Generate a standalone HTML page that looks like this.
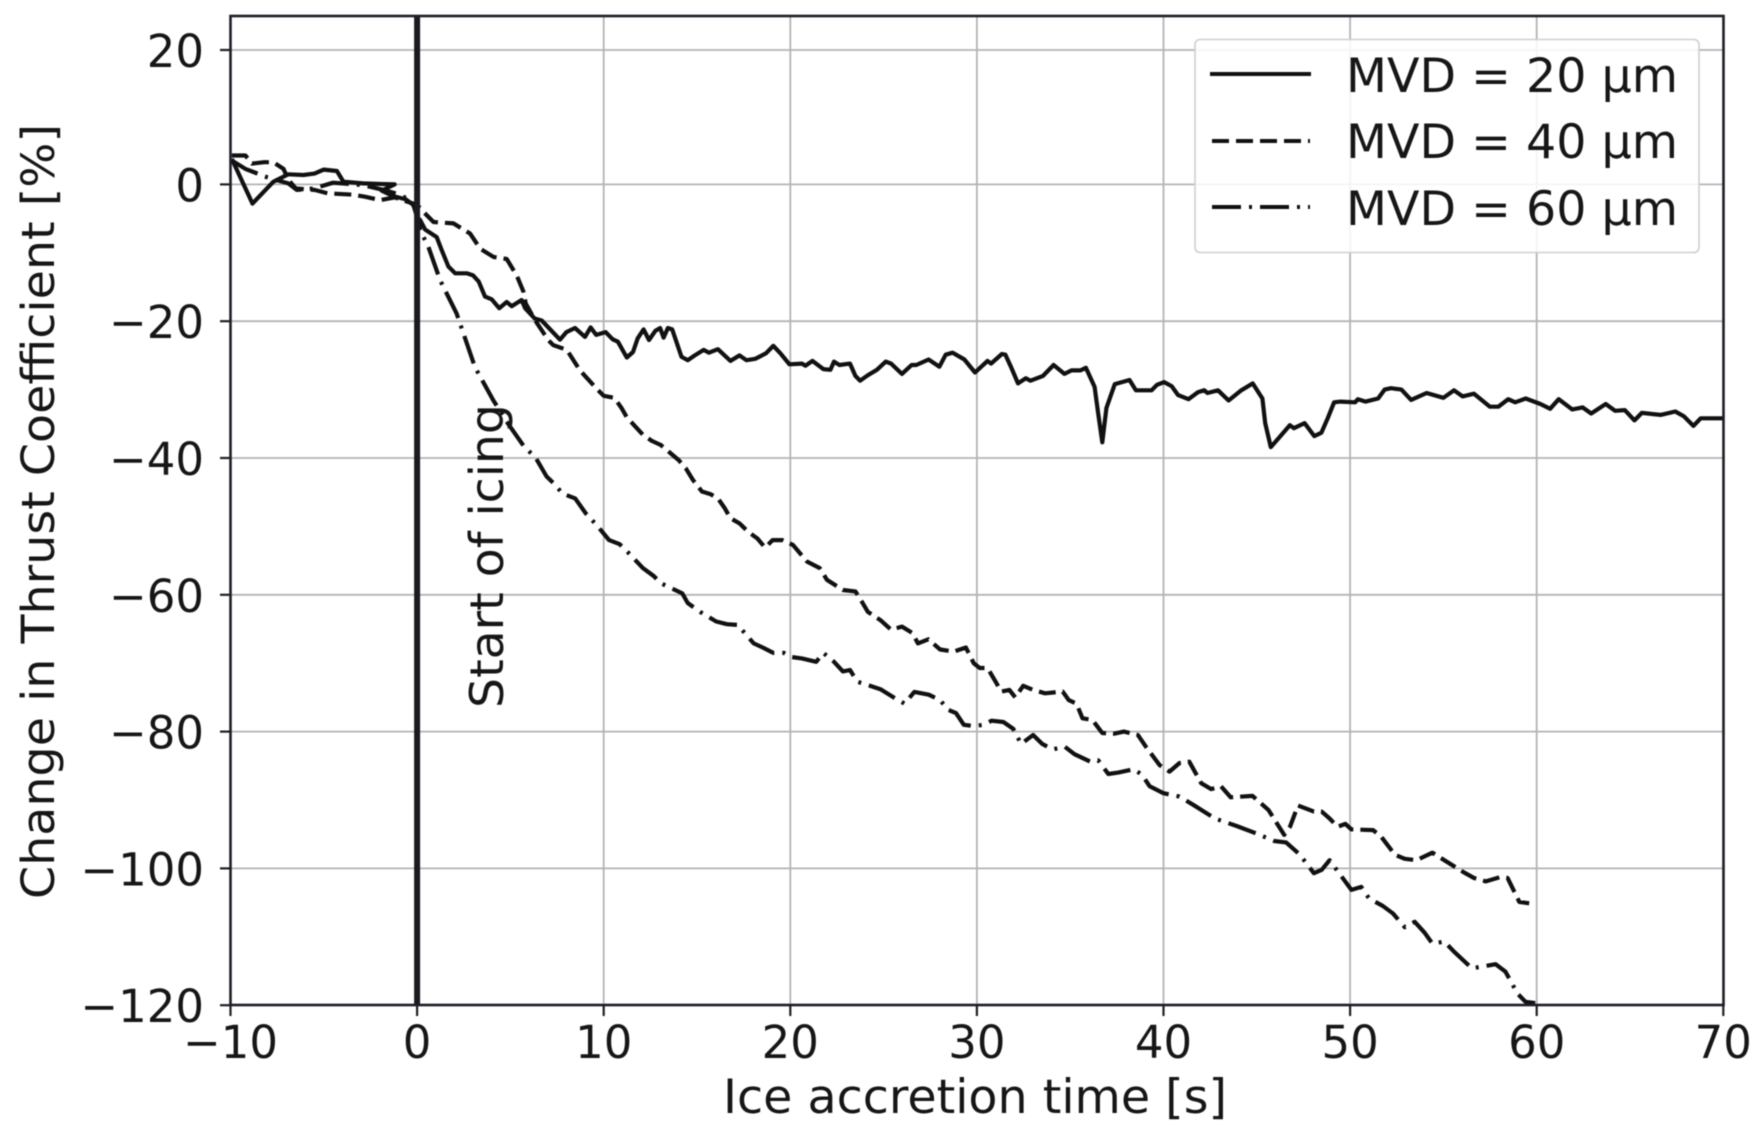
<!DOCTYPE html>
<html lang="en">
<head>
<meta charset="utf-8">
<title>Change in Thrust Coefficient vs Ice accretion time</title>
<style>
html,body{margin:0;padding:0;background:#fff;}
svg{display:block;filter:blur(0.4px);}
text{font-family:"DejaVu Sans","Liberation Sans",sans-serif;fill:#161616;}
</style>
</head>
<body>
<svg id="chart" xmlns="http://www.w3.org/2000/svg" width="1761" height="1135" viewBox="0 0 1761 1135">
  <rect x="0" y="0" width="1761" height="1135" fill="#ffffff"/>
  <g id="grid"></g>
  <g id="series"></g>
  <g id="marker"></g>
  <text id="annot" transform="translate(503,708) rotate(-90)" font-size="46" textLength="304" lengthAdjust="spacingAndGlyphs">Start of icing</text>
  <g id="ticks"></g>
  <rect x="230.5" y="16" width="1493" height="989" fill="none" stroke="#1e1e28" stroke-width="2.6"/>
  <text x="975" y="1113" text-anchor="middle" font-size="47" textLength="504" lengthAdjust="spacingAndGlyphs">Ice accretion time [s]</text>
  <text transform="translate(54,899) rotate(-90)" font-size="45" textLength="775" lengthAdjust="spacingAndGlyphs">Change in Thrust Coefficient [%]</text>
  <g>
    <rect x="1195" y="39.5" width="504" height="213" rx="5" ry="5" fill="#ffffff" fill-opacity="0.85" stroke="#cfcfcf" stroke-width="1.6"/>
    <line x1="1210" x2="1311" y1="74" y2="74" stroke="#111" stroke-width="4"/>
    <line x1="1212" x2="1310" y1="141" y2="141" stroke="#111" stroke-width="4" stroke-dasharray="17 7"/>
    <line x1="1212" x2="1310" y1="207" y2="207" stroke="#111" stroke-width="4" stroke-dasharray="29 8 3 8"/>
    <text x="1346" y="92" font-size="47" textLength="332" lengthAdjust="spacingAndGlyphs">MVD = 20 µm</text>
    <text x="1346" y="158" font-size="47" textLength="332" lengthAdjust="spacingAndGlyphs">MVD = 40 µm</text>
    <text x="1346" y="225" font-size="47" textLength="332" lengthAdjust="spacingAndGlyphs">MVD = 60 µm</text>
  </g>
</svg>
<script>
const xTickValues = [-10,0,10,20,30,40,50,60,70];
const yTickValues = [20,0,-20,-40,-60,-80,-100,-120];
const iceStartTime = 0;

const time20 = [-9.93,-8.82,-7.7,-6.9,-6.1,-5.5,-5,-4.3,-3.95,-2.9,-1.2,-1.9,-1.3,-0.6,-0.2,0,0.16,0.43,1.05,1.32,1.68,2.04,2.66,3,3.3,3.64,4,4.4,4.8,5.07,5.6,5.79,6.3,6.68,7.66,8,8.46,9,9.3,9.6,10.1,10.48,10.76,11.24,11.57,11.82,12.14,12.43,12.77,13.02,13.21,13.44,13.67,14.17,14.5,14.88,15.36,15.64,16.12,16.79,17.27,17.65,18.13,18.7,19.09,19.47,19.95,20.62,20.81,21.19,21.77,22.15,22.34,22.63,23.2,23.49,23.74,24.16,24.64,25.12,25.4,25.98,26.5,26.75,27.41,27.99,28.33,28.7,29.33,29.9,30.57,30.76,31.34,31.53,31.82,32.2,32.62,32.87,33.54,34.11,34.69,35.07,35.55,35.84,36.31,36.5,36.72,36.94,37.39,38.18,38.52,39.36,39.65,40.03,40.44,40.78,41.34,41.84,42.18,42.36,42.92,43.49,44.17,44.78,45.3,45.45,45.75,46.2,46.77,46.99,47.56,48.08,48.46,48.8,49.14,49.48,50.27,50.42,50.83,51.5,51.85,52.19,52.75,53.27,54.1,55,55.57,56.03,56.64,57.49,57.95,58.47,58.85,59.41,60.2,60.72,61.18,61.9,62.46,62.92,63.7,64.2,64.72,65.24,65.63,66.64,67.43,67.89,68.4,68.79,70];
const thrust20 = [3.8,-2.8,0.4,1.5,1.4,1.6,2.2,2,0.4,0.15,0,-0.9,-1.7,-2.2,-3,-4.8,-5.2,-6.6,-7.7,-9.6,-12,-13,-13,-13.3,-14.2,-16.4,-16.8,-18.1,-17.2,-17.8,-16.9,-18.1,-19.6,-19.9,-22.7,-21.6,-21,-22.3,-20.9,-22,-21.6,-22.65,-23,-25.3,-24.5,-22.5,-21.2,-22.75,-21.4,-21,-22.4,-21,-21.2,-25.2,-25.7,-25,-24.2,-24.6,-24.1,-25.8,-25,-25.7,-25.5,-24.7,-23.6,-24.7,-26.3,-26.2,-26.5,-25.8,-27,-27.1,-25.9,-26.4,-26.2,-28,-28.7,-27.9,-27.1,-25.9,-26.2,-27.7,-26.4,-26.4,-25.6,-26.65,-24.9,-24.6,-25.6,-27.5,-25.8,-26.2,-24.8,-24.9,-26.65,-29.1,-28.35,-28.7,-28,-26.4,-27.7,-27.2,-27.2,-26.8,-29.6,-33.5,-37.7,-32.7,-29.2,-28.6,-30.1,-30.1,-29.3,-28.9,-29.5,-30.8,-31.4,-30.4,-30.1,-30.5,-30.1,-31.6,-30.1,-29.1,-31.3,-34.9,-38.4,-37,-35.2,-35.65,-34.9,-36.8,-36.3,-34.2,-31.85,-31.75,-31.85,-31.4,-31.75,-31.3,-30,-29.8,-30,-31.5,-30.5,-31.2,-30.1,-31,-30.6,-32.5,-32.5,-31.4,-31.85,-31.3,-32.1,-32.8,-31.4,-32.9,-32.6,-33.5,-32.1,-33.1,-33,-34.5,-33.4,-33.7,-33.2,-33.9,-35.3,-34.2,-34.2];

const time40 = [-9.93,-9.2,-8.84,-8.2,-7.7,-7.16,-6.9,-6.5,-5.5,-4.8,-3.4,-2.8,-2,-1.2,0,0.34,0.88,1.95,2.84,3.38,4.09,4.8,5.34,5.7,5.82,6.32,7.04,7.3,8.02,8.73,9.63,10,10.57,10.96,11.24,12.1,12.58,13.06,14.02,14.4,14.78,15.26,15.74,16.12,16.5,16.79,17.27,17.75,18.23,18.65,19.05,19.57,20.14,20.9,21.58,21.96,22.82,23.49,23.78,24.16,24.83,25.4,25.98,26.55,26.84,27.4,28.03,28.77,29.41,29.83,30.15,30.57,31,31.31,31.74,32.06,32.48,33.01,33.65,34.6,34.92,35.34,35.66,36.19,36.72,37.35,37.88,38.63,39.05,39.79,40.32,40.85,41.38,42.02,42.55,43.08,43.6,44.77,45.62,46.47,46.78,47.21,48.06,48.48,48.9,49.33,49.75,50.07,51.23,51.66,52.4,52.93,53.56,54.41,55.05,56.11,56.64,57.27,58.01,58.44,59.07,59.6];
const thrust40 = [4.3,4.3,3.1,3.3,3.3,2.3,0.7,-0.6,-0.8,-1.3,-1.5,-1.8,-2.3,-1.9,-3,-4,-5.5,-5.7,-7.2,-9.4,-10.6,-10.9,-13.3,-15.7,-17.4,-19.85,-22.8,-23.5,-24.2,-27.2,-29.9,-30.9,-31.2,-32.7,-34.05,-36.6,-37.5,-38.1,-40.3,-41.5,-43.2,-44.9,-45.3,-45.9,-47.4,-48.8,-49.55,-50.8,-51.75,-53.1,-52,-52,-52.7,-55.15,-56.1,-57.8,-59.3,-59.5,-60.75,-62.5,-63.7,-65.1,-64.65,-65.6,-67.1,-66.5,-68,-68.3,-67.7,-70,-70.7,-70.7,-72.7,-74.15,-73.9,-75,-73.3,-73.9,-74.4,-74.15,-75.4,-75.9,-78.05,-78.3,-80.2,-80.3,-80,-80.5,-82.2,-84.9,-85.85,-84.6,-84.4,-87.55,-88.4,-88,-89.6,-89.4,-91.45,-95.1,-93.9,-90.8,-91.7,-91.7,-92.7,-93.9,-93.5,-94.3,-94.4,-95.35,-98,-98.6,-98.8,-97.7,-98.8,-100.6,-101.4,-101.9,-101.3,-101.4,-104.9,-105.1];

const time60 = [-9.93,-9.2,-8.77,-8.2,-7.6,-6.9,-6.45,-5.55,-4.5,-2.9,-1.8,-0.9,-0.3,0,0.16,0.6,1.23,2.12,3.1,4.09,4.93,5.7,6.36,6.94,7.32,7.8,8.47,9.04,9.62,10.29,10.86,11.34,12.1,12.68,13.06,14.21,14.5,15.17,16.03,16.6,17.18,18.04,18.52,19.09,19.66,20.05,20.62,21.39,21.77,22.34,22.82,23.2,23.59,24.16,24.83,25.6,26.12,26.65,27.42,28.03,28.45,28.88,29.3,29.83,30.36,30.78,31.42,31.95,32.37,33.01,33.5,34.07,34.7,35.23,36.08,36.5,37.04,37.57,38.41,38.84,39.26,40,40.85,41.59,42.76,43.92,44.98,45.94,46.57,47.31,48.06,48.48,48.9,50.07,50.6,51.02,51.76,52.3,52.93,53.46,53.99,54.41,55.05,55.58,56.53,57.8,58.33,58.97,59.4,59.92];
const thrust60 = [3.56,2.3,1.85,1.2,0.7,0.15,-0.8,-0.6,0.25,-0.1,-0.8,-1.5,-2.5,-4.2,-6.7,-9.1,-14,-18.9,-26.7,-31.6,-35.2,-38.2,-40,-42.7,-43.7,-45.2,-45.9,-48.1,-49.8,-52,-52.6,-53.9,-56.1,-57.25,-58.3,-59.8,-61.2,-62.5,-63.9,-64.3,-64.4,-67.1,-67.7,-68.5,-68.5,-69.1,-69.3,-69.8,-68.5,-69.8,-71.2,-71,-72.7,-73.2,-73.8,-75.1,-75.9,-74.2,-74.6,-75.4,-76.8,-77.3,-79,-79.2,-79,-78.4,-78.6,-79.6,-81.8,-80.5,-81.8,-82.6,-82.2,-83.3,-84.4,-84.2,-86.2,-86,-85.5,-86.3,-88,-89,-89.5,-90.7,-92.7,-93.8,-94.9,-96,-96.2,-98,-100.7,-100.2,-98.8,-103.15,-102.7,-104.4,-105.5,-106.6,-108.6,-107.8,-109.4,-111,-110.7,-112.2,-114.6,-114,-115.1,-118.3,-119.5,-119.7];

const SVG_NS = 'http://www.w3.org/2000/svg';
function xScale(v){ return 417.1 + v * 18.66; }
function yScale(v){ return v > 0 ? 184.4 - v * 6.72 : 184.4 - v * 6.84; }
function fmt(v){ return v < 0 ? '\u2212' + Math.abs(v) : String(v); }
function make(tag, attrs, parent){
  const el = document.createElementNS(SVG_NS, tag);
  for (const k in attrs) el.setAttribute(k, attrs[k]);
  parent.appendChild(el);
  return el;
}

const gridG = document.getElementById('grid');
const ticksG = document.getElementById('ticks');
const seriesG = document.getElementById('series');
const markerG = document.getElementById('marker');

xTickValues.forEach(function(v){
  const x = xScale(v);
  const g = make('line', {x1:x, x2:x, y1:16, y2:1005, stroke:'#b4b4b8', 'stroke-width':1.8}, gridG);
  
  
  const t = make('line', {x1:x, x2:x, y1:1005, y2:1016, stroke:'#1e1e28', 'stroke-width':2.2}, ticksG);
  
  
  const l = make('text', {x:x, y:1058, 'text-anchor':'middle', 'font-size':45}, ticksG);
  l.textContent = fmt(v);
  
  
});

yTickValues.forEach(function(v){
  const y = yScale(v);
  const g = make('line', {x1:230.5, x2:1723.5, y1:y, y2:y, stroke:'#b4b4b8', 'stroke-width':1.8}, gridG);
  
  
  const t = make('line', {x1:220, x2:230.5, y1:y, y2:y, stroke:'#1e1e28', 'stroke-width':2.2}, ticksG);
  
  
  const l = make('text', {x:204, y:y + 17, 'text-anchor':'end', 'font-size':45}, ticksG);
  l.textContent = fmt(v);
  
  
});

function linePath(times, values){
  return times.map(function(t, i){
    return (i ? 'L' : 'M') + xScale(t).toFixed(1) + ' ' + yScale(values[i]).toFixed(1);
  }).join(' ');
}

const line20 = make('path', {d:linePath(time20, thrust20), fill:'none', stroke:'#111', 'stroke-width':4.2, 'stroke-linejoin':'round', 'stroke-linecap':'butt'}, seriesG);



const line40 = make('path', {d:linePath(time40, thrust40), fill:'none', stroke:'#111', 'stroke-width':4.2, 'stroke-linejoin':'round', 'stroke-dasharray':'17 7'}, seriesG);



const line60 = make('path', {d:linePath(time60, thrust60), fill:'none', stroke:'#111', 'stroke-width':4.2, 'stroke-linejoin':'round', 'stroke-dasharray':'29 8 3 8'}, seriesG);



const startLine = make('line', {x1:xScale(iceStartTime), x2:xScale(iceStartTime), y1:16, y2:1005, stroke:'#1c1a1e', 'stroke-width':6}, markerG);


</script>
</body>
</html>
